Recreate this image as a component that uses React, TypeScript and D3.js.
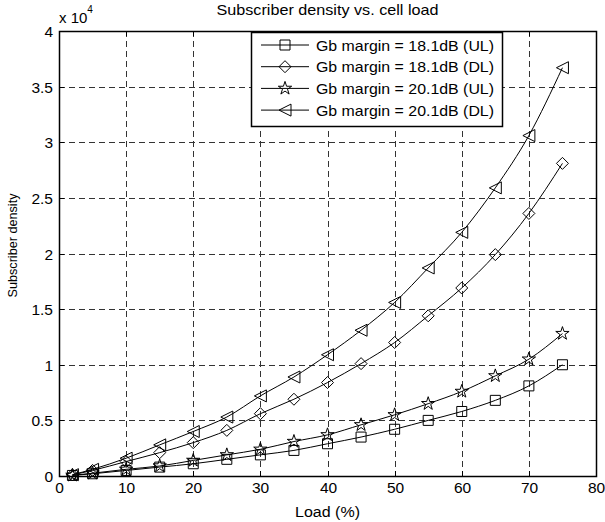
import React, { useEffect, useRef } from 'react';
import * as d3 from 'd3';

const loads = [2, 5, 10, 15, 20, 25, 30, 35, 40, 45, 50, 55, 60, 65, 70, 75];
// values in units of 1e4
const ul181 = [0.005, 0.02, 0.05, 0.08, 0.11, 0.15, 0.19, 0.23, 0.29, 0.35, 0.42, 0.5, 0.58, 0.68, 0.81, 1.0];
const dl181 = [0.01, 0.05, 0.13, 0.21, 0.3, 0.41, 0.56, 0.69, 0.84, 1.01, 1.2, 1.44, 1.69, 1.99, 2.36, 2.81];
const ul201 = [0.006, 0.025, 0.06, 0.09, 0.14, 0.19, 0.24, 0.31, 0.37, 0.46, 0.55, 0.65, 0.76, 0.9, 1.05, 1.28];
const dl201 = [0.012, 0.06, 0.16, 0.28, 0.4, 0.53, 0.72, 0.89, 1.09, 1.31, 1.56, 1.87, 2.19, 2.59, 3.06, 3.67];
const seriesNames = ['Gb margin = 18.1dB (UL)', 'Gb margin = 18.1dB (DL)', 'Gb margin = 20.1dB (UL)', 'Gb margin = 20.1dB (DL)'];
const markerKinds = ['square', 'diamond', 'star', 'triangle'];
const xTicks = [0, 10, 20, 30, 40, 50, 60, 70, 80];
const yTicks = [0, 0.5, 1, 1.5, 2, 2.5, 3, 3.5, 4];

const App = () => {
    const svgRef = useRef<SVGSVGElement>(null);

    useEffect(() => {
        document.body.style.margin = '0';
        const svg = d3.select(svgRef.current);
        svg.selectAll('*').remove();

        const width = 605;
        const height = 522;
        const left = 59, right = 596, top = 31, bottom = 476;
        const font = 'Liberation Sans, Arial, sans-serif';

        const x = d3.scaleLinear().domain([0, 80]).range([left, right]);
        const y = d3.scaleLinear().domain([0, 4]).range([bottom, top]);

        svg.attr('width', width).attr('height', height).style('display', 'block');
        svg.append('rect').attr('width', width).attr('height', height).attr('fill', '#fff');

        // Grid
        const grid = svg.append('g').attr('stroke', '#333').attr('stroke-dasharray', '6,4').attr('stroke-width', 1);
        xTicks.slice(1, -1).forEach(t => {
            grid.append('line').attr('x1', Math.round(x(t)) + 0.5).attr('x2', Math.round(x(t)) + 0.5)
                .attr('y1', top).attr('y2', bottom);
        });
        yTicks.slice(1, -1).forEach(t => {
            grid.append('line').attr('y1', Math.round(y(t)) + 0.5).attr('y2', Math.round(y(t)) + 0.5)
                .attr('x1', left).attr('x2', right);
        });

        // Ticks on all sides
        const ticks = svg.append('g').attr('stroke', '#000');
        xTicks.forEach(t => {
            const px = Math.round(x(t)) + 0.5;
            ticks.append('line').attr('x1', px).attr('x2', px).attr('y1', bottom).attr('y2', bottom - 5);
            ticks.append('line').attr('x1', px).attr('x2', px).attr('y1', top).attr('y2', top + 5);
            svg.append('text').attr('x', px).attr('y', bottom + 17).attr('text-anchor', 'middle')
                .attr('font-family', font).attr('font-size', 15.5).text(t);
        });
        yTicks.forEach(t => {
            const py = Math.round(y(t)) + 0.5;
            ticks.append('line').attr('x1', left).attr('x2', left + 5).attr('y1', py).attr('y2', py);
            ticks.append('line').attr('x1', right).attr('x2', right - 5).attr('y1', py).attr('y2', py);
            svg.append('text').attr('x', left - 6).attr('y', py + 5).attr('text-anchor', 'end')
                .attr('font-family', font).attr('font-size', 15.5).text(t);
        });

        svg.append('rect').attr('x', left + 0.5).attr('y', top + 0.5).attr('width', right - left).attr('height', bottom - top)
            .attr('fill', 'none').attr('stroke', '#000').attr('stroke-width', 1.5);

        // Exponent label
        const expo = svg.append('text').attr('x', 59).attr('y', 23).attr('font-family', font).attr('font-size', 15);
        expo.append('tspan').text('x 10');
        expo.append('tspan').attr('dy', -10).attr('font-size', 10).text('4');

        // Titles
        svg.append('text').attr('x', (left + right) / 2).attr('y', 15).attr('text-anchor', 'middle')
            .attr('font-family', font).attr('font-size', 15).attr('textLength', 222).attr('lengthAdjust', 'spacingAndGlyphs')
            .text('Subscriber density vs. cell load');
        svg.append('text').attr('x', (left + right) / 2).attr('y', 517).attr('text-anchor', 'middle')
            .attr('font-family', font).attr('font-size', 15.5).attr('textLength', 65).attr('lengthAdjust', 'spacingAndGlyphs')
            .text('Load (%)');
        svg.append('text').attr('transform', `translate(17, ${(top + bottom) / 2 - 8}) rotate(-90)`).attr('text-anchor', 'middle')
            .attr('font-family', font).attr('font-size', 13).attr('textLength', 104).attr('lengthAdjust', 'spacingAndGlyphs')
            .text('Subscriber density');

        const markerPath = (kind: string) => {
            if (kind === 'square') return 'M-5,-5H5V5H-5Z';
            if (kind === 'diamond') return 'M0,-6L6,0L0,6L-6,0Z';
            if (kind === 'triangle') return 'M-6,0L6,-6L6,6Z';
            return d3.symbol().type(d3.symbolStar).size(55)() as string;
        };

        const allSeries = [ul181, dl181, ul201, dl201];
        const line = d3.line<number>().x((_, i) => x(loads[i])).y(d => y(d)).curve(d3.curveMonotoneX);

        allSeries.forEach((vals, si) => {
            svg.append('path').attr('d', line(vals)).attr('fill', 'none').attr('stroke', '#000').attr('stroke-width', 1);
            vals.forEach((v, i) => {
                svg.append('path').attr('d', markerPath(markerKinds[si]))
                    .attr('transform', `translate(${x(loads[i])},${y(v)})`)
                    .attr('fill', 'none').attr('stroke', '#000').attr('stroke-width', 1);
            });
        });

        // Legend
        const lg = svg.append('g');
        lg.append('rect').attr('x', 251.5).attr('y', 32.5).attr('width', 251).attr('height', 94)
            .attr('fill', '#fff').attr('stroke', '#000').attr('stroke-width', 1.5);
        seriesNames.forEach((name, i) => {
            const ly = 45 + i * 21.7;
            lg.append('line').attr('x1', 261).attr('x2', 309).attr('y1', ly).attr('y2', ly).attr('stroke', '#000');
            lg.append('path').attr('d', markerPath(markerKinds[i])).attr('transform', `translate(285,${ly})`)
                .attr('fill', 'none').attr('stroke', '#000');
            lg.append('text').attr('x', 316).attr('y', ly + 5.5).attr('font-family', font).attr('font-size', 15)
                .attr('textLength', 178).attr('lengthAdjust', 'spacingAndGlyphs').text(name);
        });
    }, []);

    return <svg ref={svgRef}></svg>;
};

export default App;
